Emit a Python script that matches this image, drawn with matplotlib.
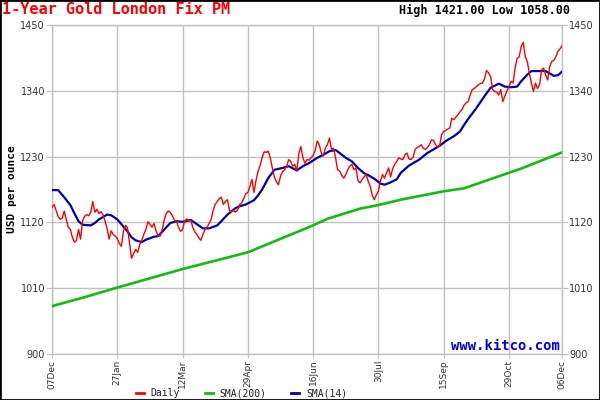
import matplotlib
matplotlib.use("Agg")
import matplotlib.pyplot as plt
from matplotlib.patches import Rectangle
from matplotlib.lines import Line2D

# ---- data ----
daily = [
    1145, 1150, 1140, 1130, 1125, 1127, 1139, 1125, 1112, 1108,
    1095, 1087, 1090, 1108, 1092, 1123, 1130, 1133, 1131, 1137,
    1155, 1137, 1142, 1135, 1138, 1133, 1122, 1110, 1092, 1106,
    1100, 1097, 1093, 1085, 1080, 1105, 1115, 1111, 1085, 1060,
    1068, 1075, 1070, 1083, 1090, 1100, 1108, 1121, 1117, 1112,
    1118, 1106, 1098, 1097, 1108, 1124, 1135, 1139, 1137, 1131,
    1124, 1122, 1112, 1105, 1108, 1122, 1126, 1122, 1124, 1112,
    1104, 1100, 1094, 1090, 1100, 1108, 1112, 1118, 1125, 1140,
    1150, 1155, 1160, 1162, 1150, 1155, 1158, 1140, 1138, 1140,
    1137, 1141, 1150, 1153, 1160, 1168, 1170, 1180, 1192, 1170,
    1190, 1205, 1215, 1228, 1238, 1237, 1239, 1228, 1211, 1196,
    1188, 1183, 1197, 1205, 1208, 1213, 1225, 1222, 1214, 1217,
    1206, 1235, 1247, 1228, 1219, 1225, 1224, 1228, 1232, 1240,
    1256, 1250, 1236, 1231, 1244, 1250, 1261, 1242, 1244, 1228,
    1208, 1206, 1199, 1194, 1200, 1208, 1214, 1217, 1208, 1211,
    1190, 1186, 1192, 1196, 1200, 1189, 1180, 1165, 1158, 1166,
    1172, 1189, 1200, 1194, 1203, 1211, 1196, 1210, 1217, 1222,
    1228, 1226, 1225, 1233, 1236, 1226, 1225, 1229, 1242, 1245,
    1247, 1250, 1244, 1242, 1245, 1250, 1258, 1257, 1250, 1246,
    1248, 1267, 1272, 1274, 1276, 1278, 1294, 1292, 1296, 1300,
    1305, 1309, 1316, 1320, 1322, 1333, 1342, 1344, 1347, 1350,
    1352, 1353, 1360, 1374, 1370, 1364, 1342, 1339, 1338, 1333,
    1342, 1322, 1331, 1340, 1347, 1356, 1353, 1378, 1394, 1397,
    1414, 1421, 1397, 1389, 1369, 1353, 1339, 1353, 1344, 1350,
    1375, 1378, 1366, 1358, 1381, 1389, 1391, 1397, 1406, 1410,
    1415,
]

sma14_idx = [0, 3, 6, 9, 11, 13, 15, 19, 21, 23, 27, 29, 32, 34, 37, 39, 41, 44,
             46, 50, 52, 55, 58, 61, 64, 68, 71, 74, 77, 81, 83, 86, 90, 92, 95,
             99, 101, 103, 106, 109, 113, 116, 120, 123, 126, 130, 133, 136, 139,
             141, 144, 147, 150, 153, 155, 158, 161, 163, 166, 169, 171, 175, 180,
             184, 187, 190, 193, 197, 200, 202, 204, 208, 212, 215, 219, 222, 225,
             228, 230, 233, 235, 238, 242, 244, 246, 248, 250]
sma14_val = [1174, 1174, 1162, 1149, 1135, 1122, 1116, 1115, 1119, 1125, 1133, 1132,
             1125, 1117, 1105, 1095, 1090, 1087, 1091, 1096, 1097, 1108, 1119, 1122,
             1121, 1124, 1117, 1110, 1110, 1115, 1122, 1133, 1144, 1147, 1150, 1157,
             1165, 1175, 1194, 1208, 1211, 1214, 1207, 1214, 1219, 1228, 1233, 1239,
             1241, 1236, 1228, 1222, 1211, 1202, 1199, 1193, 1185, 1183, 1187, 1192,
             1203, 1215, 1225, 1236, 1242, 1248, 1256, 1264, 1272, 1283, 1293, 1311,
             1331, 1345, 1352, 1347, 1346, 1347, 1356, 1367, 1373, 1373, 1373, 1369,
             1365, 1366, 1372]

sma200_idx = [0, 16, 33, 64, 96, 128, 135, 151, 160, 171, 192, 202, 224, 230, 250]
sma200_val = [980, 995, 1012, 1042, 1070, 1115, 1126, 1143, 1149, 1158, 1172, 1177,
              1203, 1210, 1237]

tick_idx = [0, 32, 64, 96, 128, 160, 192, 224, 250]
tick_labels = ["07Dec", "27Jan", "12Mar", "29Apr", "16Jun", "30Jul", "15Sep",
               "29Oct", "06Dec"]
y_ticks = [900, 1010, 1120, 1230, 1340, 1450]

title = "1-Year Gold London Fix PM"
hilo = "High 1421.00 Low 1058.00"
legend_names = ["Daily", "SMA(200)", "SMA(14)"]

# ---- figure ----
W, H = 600, 400
fig = plt.figure(figsize=(6, 4), dpi=100)
ax = fig.add_axes([52 / W, 46 / H, 510 / W, 329 / H])

grid_c = "#c0c0c0"
c_daily, c_200, c_14 = "#ff0000", "#11bb11", "#0000aa"
x = list(range(len(daily)))
ax.plot(sma200_idx, sma200_val, color=c_200, lw=1.9, zorder=3)
ax.plot(sma14_idx, sma14_val, color=c_14, lw=1.6, zorder=4)
ax.plot(x, daily, color=c_daily, lw=1.0, zorder=5)

ax.set_xlim(0, len(daily) - 1)
ax.set_ylim(900, 1450)
ax.set_xticks(tick_idx)
ax.set_xticklabels(tick_labels, rotation=90, fontsize=6.5, color="#333333")
ax.set_yticks(y_ticks)
ax.set_yticklabels([str(v) for v in y_ticks], fontsize=7, color="#333333")
ax.tick_params(axis="y", which="both", length=4, color=grid_c, pad=1,
               left=True, right=True, labelleft=True, labelright=True)
ax.tick_params(axis="x", length=3, color=grid_c, pad=1)
ax.grid(True, color=grid_c, lw=1.0)
ax.set_axisbelow(True)
for s in ax.spines.values():
    s.set_color(grid_c)
    s.set_linewidth(1.0)

ax.set_ylabel("USD per ounce", fontsize=8, fontweight="bold",
              family="DejaVu Sans Mono")
ax.yaxis.set_label_coords(-0.068, 0.5)

ax.text(0.995, 0.012, "www.kitco.com", transform=ax.transAxes, ha="right",
        va="baseline", color="#0000ee", fontsize=10, fontweight="bold",
        family="DejaVu Sans Mono", zorder=6)

fig.text(2 / W, 1 - 10 / H, title, color="#ff0000", fontsize=11,
         fontweight="bold", family="DejaVu Sans Mono", ha="left", va="center")
fig.text(570 / W, 1 - 10 / H, hilo, color="#000000", fontsize=8.5,
         fontweight="bold", family="DejaVu Sans Mono", ha="right", va="center")

# legend drawn by hand at the bottom
leg_y = 1 - 393 / H
for (hx0, hx1, tx), col, name in zip([(136, 144, 150), (205, 213, 219), (291, 299, 306)],
                                     [c_daily, c_200, c_14], legend_names):
    fig.add_artist(Line2D([hx0 / W, hx1 / W], [leg_y, leg_y], color=col, lw=2,
                          transform=fig.transFigure))
    fig.text(tx / W, leg_y, name, fontsize=7, family="DejaVu Sans Mono",
             ha="left", va="center", color="#222222")

fig.patches.append(Rectangle((0, 0), 1, 1, transform=fig.transFigure,
                             fill=False, edgecolor="black", lw=2))

fig.savefig("out.png", dpi=100)
